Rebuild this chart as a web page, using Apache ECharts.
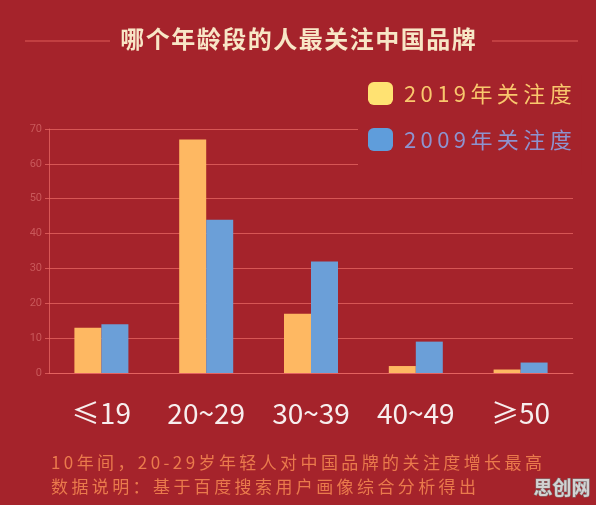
<!DOCTYPE html>
<html>
<head>
<meta charset="utf-8">
<title>哪个年龄段的人最关注中国品牌</title>
<script src="https://cdn.jsdelivr.net/npm/echarts@6/dist/echarts.min.js"></script>
<style>
    html, body { margin: 0; padding: 0; background: #a5232b; }
    #main { width: 596px; height: 505px; }
</style>
</head>
<body>
<div id="main"></div>
<script>
var titleText = '哪个年龄段的人最关注中国品牌';
var categories = ['≤19', '20~29', '30~39', '40~49', '≥50'];
var seriesNames = ['2019年关注度', '2009年关注度'];
var values2019 = [13, 67, 17, 2, 1];
var values2009 = [14, 44, 32, 9, 3];
var yTicks = [0, 10, 20, 30, 40, 50, 60, 70];
var noteLines = ['10年间，20-29岁年轻人对中国品牌的关注度增长最高', '数据说明：基于百度搜索用户画像综合分析得出'];
var watermark = '思创网';

(function (window) {
    var bg = '#a5232b';
    var gridColor = 'rgba(232,104,100,0.75)';
    var cjk = '"Noto Sans CJK SC", "Noto Sans", sans-serif';

    // 原图字距较宽, 用细空格拉开
    var spaced = function (s, sp) {
        return s.split('').join(sp);
    };

    var myChart = echarts.init(document.getElementById('main'));
    var option = {
        backgroundColor: bg,
        animation: false,
        grid: { left: 49, right: 23, top: 129, bottom: 132 },
        legend: {
            orient: 'vertical',
            left: 358,
            top: 75,
            padding: [7, 10, 24, 10],
            backgroundColor: bg,
            itemWidth: 25,
            itemHeight: 23,
            itemGap: 23,
            icon: 'roundRect',
            data: [
                { name: seriesNames[0], itemStyle: { color: '#ffe272' }, textStyle: { color: '#f9c76d' } },
                { name: seriesNames[1], itemStyle: { color: '#5f9ddb' }, textStyle: { color: '#8e93cf' } }
            ],
            formatter: function (name) {
                return spaced(name, '\u2009');
            },
            textStyle: { fontSize: 22, fontFamily: cjk, padding: [0, 0, 0, 6] }
        },
        xAxis: {
            type: 'category',
            data: categories,
            axisLine: { lineStyle: { color: gridColor } },
            axisTick: { show: false },
            axisLabel: { interval: 0, color: '#f7eeee', fontSize: 28, margin: 26, fontFamily: cjk }
        },
        yAxis: {
            type: 'value',
            min: yTicks[0],
            max: yTicks[yTicks.length - 1],
            interval: 10,
            axisLine: { show: true, lineStyle: { color: gridColor } },
            axisTick: { show: true, length: 4, lineStyle: { color: gridColor } },
            axisLabel: { color: '#c9585a', fontSize: 11, margin: 7, fontFamily: 'Roboto, sans-serif' },
            splitLine: { lineStyle: { color: gridColor } }
        },
        series: [{
            name: seriesNames[0],
            type: 'bar',
            barWidth: 27,
            barGap: '0%',
            itemStyle: { color: '#feb862' },
            data: values2019
        }, {
            name: seriesNames[1],
            type: 'bar',
            barWidth: 27,
            itemStyle: { color: '#6b9fd8' },
            data: values2009
        }],
        graphic: [{
            type: 'text',
            left: 'center',
            top: 27,
            style: { text: spaced(titleText, '\u200a'), fill: '#f8e6c6', font: 'bold 24px ' + cjk }
        }, {
            type: 'line',
            shape: { x1: 25, y1: 41, x2: 110, y2: 41 },
            style: { stroke: '#de5c58', lineWidth: 1 }
        }, {
            type: 'line',
            shape: { x1: 492, y1: 41, x2: 578, y2: 41 },
            style: { stroke: '#de5c58', lineWidth: 1 }
        }, {
            type: 'text',
            left: 51,
            top: 454,
            style: { text: spaced(noteLines[0], '\u2009'), fill: '#ea7a4c', font: '17px ' + cjk }
        }, {
            type: 'text',
            left: 51,
            top: 478,
            style: { text: spaced(noteLines[1], '\u2009'), fill: '#ea7a4c', font: '17px ' + cjk }
        }, {
            type: 'text',
            left: 533,
            top: 478,
            style: { text: watermark, fill: '#d2d2d2', stroke: '#7d7d7d', lineWidth: 1, font: 'bold 19px ' + cjk }
        }]
    };
    myChart.setOption(option);
})(window);
</script>
</body>
</html>
